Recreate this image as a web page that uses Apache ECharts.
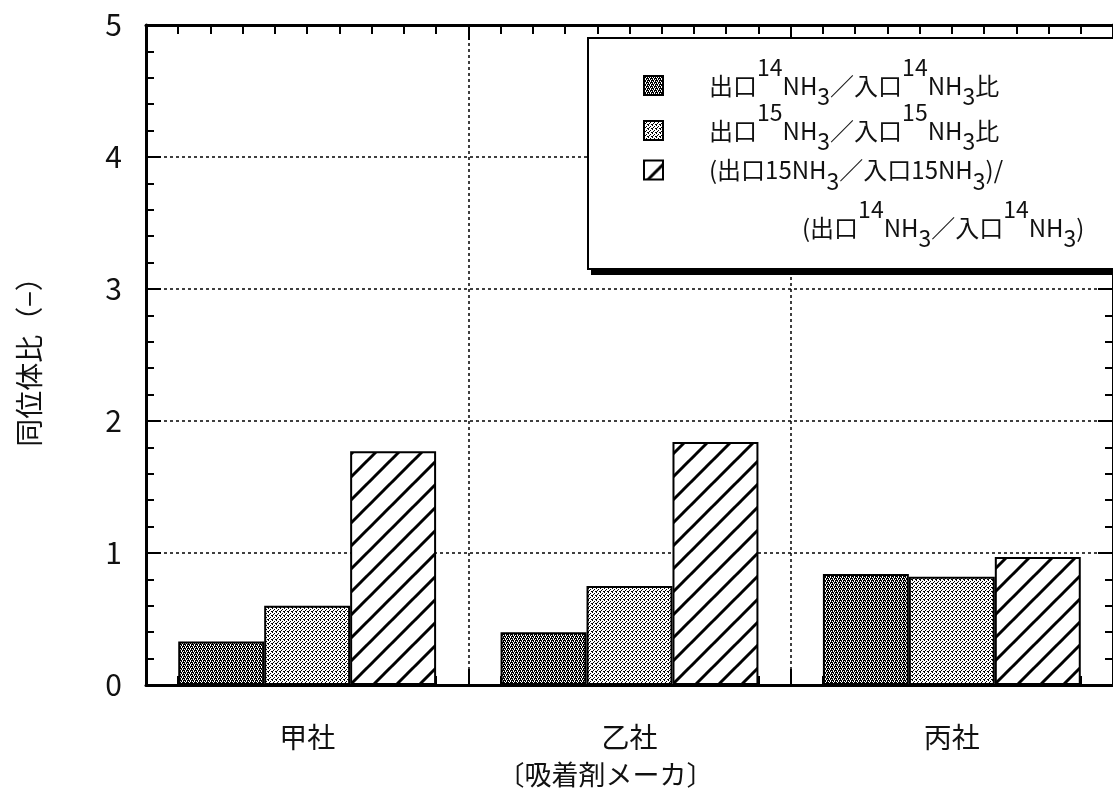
<!DOCTYPE html>
<html><head><meta charset="utf-8">
<script src="https://cdn.jsdelivr.net/npm/echarts@6/dist/echarts.min.js"></script>
<style>html,body{margin:0;padding:0;background:#fff;overflow:hidden}#c{width:1113px;height:794px}</style>
</head><body><div id="c"></div>
<script>
// ---- data ----
const categories = ['甲社', '乙社', '丙社'];
const seriesNames = ['出口14NH3/入口14NH3比', '出口15NH3/入口15NH3比', '(出口15NH3/入口15NH3)/(出口14NH3/入口14NH3)'];
const ratio14 = [0.33, 0.40, 0.84];
const ratio15 = [0.60, 0.75, 0.82];
const ratioRel = [1.77, 1.84, 0.97];
const yMin = 0, yMax = 5, yStep = 1;
const xAxisName = '〔吸着剤メーカ〕';
const yAxisName = '同位体比（−）';

// ---- patterns ----
function dither(rows) {
  const c = document.createElement('canvas');
  c.width = rows[0].length; c.height = rows.length;
  const g = c.getContext('2d');
  g.fillStyle = '#fff'; g.fillRect(0, 0, c.width, c.height);
  g.fillStyle = '#000';
  rows.forEach((r, y) => { for (let x = 0; x < r.length; x++) if (r[x] === 'X') g.fillRect(x, y, 1, 1); });
  return { image: c, repeat: 'repeat' };
}
function hatch(size, lw) {
  const c = document.createElement('canvas');
  c.width = size; c.height = size;
  const g = c.getContext('2d');
  g.fillStyle = '#fff'; g.fillRect(0, 0, size, size);
  g.strokeStyle = '#000'; g.lineWidth = lw;
  for (const k of [-size, 0, size]) { g.beginPath(); g.moveTo(k - 1, size + 1); g.lineTo(k + size + 1, -1); g.stroke(); }
  return { image: c, repeat: 'repeat' };
}
const patDark = dither(['XX.X', '.X.X', 'X.XX', 'X.X.']);
const patLight = dither(['X...', '..X.', '.X..', 'X..X']);
const patHatch = hatch(23, 3);

const FONT = '"Noto Sans CJK JP", "Noto Sans", sans-serif';
function richStyles(colorKey) {
  const o = {
    t: { fontSize: 24, lineHeight: 62, verticalAlign: 'middle', fontFamily: FONT },
    sup: { fontSize: 23, height: 26, verticalAlign: 'top', fontFamily: FONT },
    sub: { fontSize: 23, height: 40, verticalAlign: 'bottom', fontFamily: FONT }
  };
  Object.values(o).forEach(s => s[colorKey] = '#111');
  return o;
}
const legendText = [
  '{t|出口}{sup|14}{t|NH}{sub|3}{t|／入口}{sup|14}{t|NH}{sub|3}{t|比}',
  '{t|出口}{sup|15}{t|NH}{sub|3}{t|／入口}{sup|15}{t|NH}{sub|3}{t|比}',
  '{t|(出口15NH}{sub|3}{t|／入口15NH}{sub|3}{t|)/}'
];
const legendCont = '{t|(出口}{sup|14}{t|NH}{sub|3}{t|／入口}{sup|14}{t|NH}{sub|3}{t|)}';
const legendTops = [56, 101, 158];

function makeLegend(i) {
  return {
    orient: 'vertical', left: 643, top: legendTops[i], padding: 0, z: 12,
    icon: 'rect', itemWidth: 19, itemHeight: 19,
    data: [seriesNames[i]],
    formatter: () => legendText[i],
    textStyle: { padding: [0, 0, 0, 41], fontFamily: FONT, color: '#111', rich: richStyles('color') },
    selectedMode: false
  };
}

const tickStyle = { color: '#000', width: 2 };
const chart = echarts.init(document.getElementById('c'), null, { renderer: 'canvas' });
chart.setOption({
  backgroundColor: '#fff',
  animation: false,
  textStyle: { fontFamily: FONT },
  grid: { left: 146, top: 25, bottom: 109, width: 972, containLabel: false },
  xAxis: [
    {
      type: 'category', data: categories, position: 'bottom',
      axisLine: { show: false, onZero: false }, axisTick: { show: false },
      axisLabel: { fontSize: 28, color: '#111', margin: 38, fontFamily: FONT },
      splitLine: { show: true, lineStyle: { type: [3, 3], color: '#000', width: 1.5 } },
      name: xAxisName, nameLocation: 'middle', nameGap: 76,
      nameTextStyle: { fontSize: 27, color: '#111', fontFamily: FONT, padding: [0, 48, 0, 0] }
    },
    {
      type: 'value', min: 0, max: 30, interval: 10, position: 'top',
      axisLine: { show: true, onZero: false, lineStyle: { color: '#000', width: 3 } },
      axisTick: { show: true, inside: true, length: 15, lineStyle: tickStyle },
      minorTick: { show: true, splitNumber: 10, length: 9, lineStyle: tickStyle },
      axisLabel: { show: false }, splitLine: { show: false }
    },
    {
      type: 'value', min: 0, max: 30, interval: 10, position: 'bottom',
      axisLine: { show: true, onZero: false, lineStyle: { color: '#000', width: 3 } },
      axisTick: { show: true, inside: true, length: 16, lineStyle: tickStyle },
      minorTick: { show: true, splitNumber: 10, length: 9, lineStyle: tickStyle },
      axisLabel: { show: false }, splitLine: { show: false }
    }
  ],
  yAxis: [
    {
      type: 'value', min: yMin, max: yMax, interval: yStep, position: 'left',
      axisLine: { show: true, onZero: false, lineStyle: { color: '#000', width: 3 } },
      axisTick: { show: true, inside: true, length: 15, lineStyle: tickStyle },
      minorTick: { show: true, splitNumber: 5, length: 8, lineStyle: tickStyle },
      axisLabel: { fontSize: 30, color: '#111', margin: 24, fontFamily: FONT },
      splitLine: { show: true, lineStyle: { type: [3, 3], color: '#000', width: 1.5 } },
      name: yAxisName, nameLocation: 'middle', nameGap: 103, nameRotate: 90,
      nameTextStyle: { fontSize: 28, color: '#111', fontFamily: FONT }
    },
    {
      type: 'value', min: yMin, max: yMax, interval: yStep, position: 'right',
      axisLine: { show: true, onZero: false, lineStyle: { color: '#000', width: 3 } },
      axisTick: { show: true, inside: true, length: 15, lineStyle: tickStyle },
      minorTick: { show: true, splitNumber: 5, length: 8, lineStyle: tickStyle },
      axisLabel: { show: false }, splitLine: { show: false }
    }
  ],
  legend: [makeLegend(0), makeLegend(1), makeLegend(2)],
  graphic: [
    {
      type: 'rect', z: 9, silent: true,
      shape: { x: 591, y: 44, width: 560, height: 231 },
      style: { fill: '#000' }
    },
    {
      type: 'rect', z: 10, silent: true,
      shape: { x: 588, y: 38, width: 560, height: 231 },
      style: { fill: '#fff', stroke: '#000', lineWidth: 2 }
    },
    {
      type: 'text', z: 12, left: 802, top: 198, silent: true,
      style: { text: legendCont, fill: '#111', fontSize: 24, fontFamily: FONT, rich: richStyles('fill') }
    }
  ],
  series: [
    { name: seriesNames[0], type: 'bar', data: ratio14, xAxisIndex: 0, yAxisIndex: 0, barGap: '0%', barCategoryGap: '20%',
      itemStyle: { color: patDark, borderColor: '#000', borderWidth: 2 } },
    { name: seriesNames[1], type: 'bar', data: ratio15, xAxisIndex: 0, yAxisIndex: 0, barGap: '0%', barCategoryGap: '20%',
      itemStyle: { color: patLight, borderColor: '#000', borderWidth: 2 } },
    { name: seriesNames[2], type: 'bar', data: ratioRel, xAxisIndex: 0, yAxisIndex: 0, barGap: '0%', barCategoryGap: '20%',
      itemStyle: { color: patHatch, borderColor: '#000', borderWidth: 2 } }
  ]
});
</script></body></html>
